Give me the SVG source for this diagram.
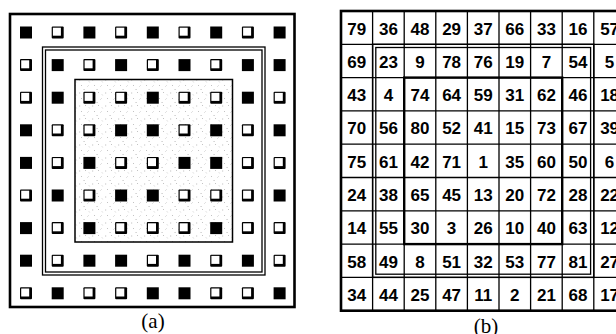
<svg xmlns="http://www.w3.org/2000/svg" xmlns:xlink="http://www.w3.org/1999/xlink" width="616" height="334" viewBox="0 0 616 334">
<style>
.ln{fill:none;stroke:#000}
.num{font-family:"Liberation Sans",Arial,sans-serif;font-weight:bold;font-size:17px;text-anchor:middle;fill:#000}
.lbl{font-family:"Liberation Serif","Times New Roman",serif;font-size:21px;text-anchor:middle;fill:#000}
</style>
<defs>
<pattern id="st" width="13" height="13" patternUnits="userSpaceOnUse">
<path d="M1 2h1.2M7 1l1 1M3 7.5h1M9.5 8.5l1-1M5.5 11.5h1.2M11 3.5l.6.8" stroke="#b4b4b4" stroke-width="0.8" fill="none"/>
</pattern>
<rect id="b" x="-6" y="-6" width="12" height="12" fill="#000"/>
<g id="w"><rect x="-6" y="-6" width="12" height="12" rx="1" fill="#000"/><rect x="-4.8" y="-4.8" width="8" height="8" fill="#fff"/></g>
</defs>
<rect width="616" height="334" fill="#fff"/>
<g id="panel-a">
<rect class="ln" x="10" y="14" width="284.5" height="293" stroke-width="2.6"/>
<rect class="ln" x="42.5" y="47" width="222.5" height="228" stroke-width="1.3"/>
<rect class="ln" x="45.5" y="50" width="216.5" height="222" stroke-width="1.3"/>
<rect x="75" y="79.5" width="157.5" height="162.5" fill="url(#st)" stroke="#000" stroke-width="1.5"/>
<g id="squares">
<use xlink:href="#b" x="26" y="32.5"/><use xlink:href="#w" x="57.7" y="32.5"/><use xlink:href="#b" x="89.4" y="32.5"/><use xlink:href="#w" x="121.1" y="32.5"/><use xlink:href="#b" x="152.8" y="32.5"/><use xlink:href="#w" x="184.5" y="32.5"/><use xlink:href="#b" x="216.2" y="32.5"/><use xlink:href="#w" x="247.9" y="32.5"/><use xlink:href="#b" x="279.6" y="32.5"/>
<use xlink:href="#w" x="26" y="65.1"/><use xlink:href="#b" x="57.7" y="65.1"/><use xlink:href="#w" x="89.4" y="65.1"/><use xlink:href="#b" x="121.1" y="65.1"/><use xlink:href="#w" x="152.8" y="65.1"/><use xlink:href="#b" x="184.5" y="65.1"/><use xlink:href="#w" x="216.2" y="65.1"/><use xlink:href="#b" x="247.9" y="65.1"/><use xlink:href="#b" x="279.6" y="65.1"/>
<use xlink:href="#w" x="26" y="97.7"/><use xlink:href="#b" x="57.7" y="97.7"/><use xlink:href="#w" x="89.4" y="97.7"/><use xlink:href="#w" x="121.1" y="97.7"/><use xlink:href="#b" x="152.8" y="97.7"/><use xlink:href="#w" x="184.5" y="97.7"/><use xlink:href="#w" x="216.2" y="97.7"/><use xlink:href="#b" x="247.9" y="97.7"/><use xlink:href="#w" x="279.6" y="97.7"/>
<use xlink:href="#b" x="26" y="130.3"/><use xlink:href="#w" x="57.7" y="130.3"/><use xlink:href="#w" x="89.4" y="130.3"/><use xlink:href="#b" x="121.1" y="130.3"/><use xlink:href="#b" x="152.8" y="130.3"/><use xlink:href="#w" x="184.5" y="130.3"/><use xlink:href="#b" x="216.2" y="130.3"/><use xlink:href="#w" x="247.9" y="130.3"/><use xlink:href="#b" x="279.6" y="130.3"/>
<use xlink:href="#b" x="26" y="162.9"/><use xlink:href="#w" x="57.7" y="162.9"/><use xlink:href="#b" x="89.4" y="162.9"/><use xlink:href="#w" x="121.1" y="162.9"/><use xlink:href="#w" x="152.8" y="162.9"/><use xlink:href="#b" x="184.5" y="162.9"/><use xlink:href="#b" x="216.2" y="162.9"/><use xlink:href="#w" x="247.9" y="162.9"/><use xlink:href="#w" x="279.6" y="162.9"/>
<use xlink:href="#w" x="26" y="195.5"/><use xlink:href="#b" x="57.7" y="195.5"/><use xlink:href="#w" x="89.4" y="195.5"/><use xlink:href="#b" x="121.1" y="195.5"/><use xlink:href="#b" x="152.8" y="195.5"/><use xlink:href="#w" x="184.5" y="195.5"/><use xlink:href="#w" x="216.2" y="195.5"/><use xlink:href="#w" x="247.9" y="195.5"/><use xlink:href="#b" x="279.6" y="195.5"/>
<use xlink:href="#b" x="26" y="228.1"/><use xlink:href="#w" x="57.7" y="228.1"/><use xlink:href="#b" x="89.4" y="228.1"/><use xlink:href="#w" x="121.1" y="228.1"/><use xlink:href="#w" x="152.8" y="228.1"/><use xlink:href="#w" x="184.5" y="228.1"/><use xlink:href="#b" x="216.2" y="228.1"/><use xlink:href="#w" x="247.9" y="228.1"/><use xlink:href="#w" x="279.6" y="228.1"/>
<use xlink:href="#b" x="26" y="260.7"/><use xlink:href="#w" x="57.7" y="260.7"/><use xlink:href="#b" x="89.4" y="260.7"/><use xlink:href="#b" x="121.1" y="260.7"/><use xlink:href="#w" x="152.8" y="260.7"/><use xlink:href="#b" x="184.5" y="260.7"/><use xlink:href="#w" x="216.2" y="260.7"/><use xlink:href="#b" x="247.9" y="260.7"/><use xlink:href="#w" x="279.6" y="260.7"/>
<use xlink:href="#w" x="26" y="293.3"/><use xlink:href="#b" x="57.7" y="293.3"/><use xlink:href="#w" x="89.4" y="293.3"/><use xlink:href="#w" x="121.1" y="293.3"/><use xlink:href="#b" x="152.8" y="293.3"/><use xlink:href="#b" x="184.5" y="293.3"/><use xlink:href="#w" x="216.2" y="293.3"/><use xlink:href="#w" x="247.9" y="293.3"/><use xlink:href="#b" x="279.6" y="293.3"/>
</g>
<text class="lbl" x="153" y="328">(a)</text>
</g>
<g id="panel-b">
<g id="grid" class="ln" stroke-width="1.3">
<path d="M372.6 11V310.7M404.2 11V310.7M435.8 11V310.7M467.4 11V310.7M499 11V310.7M530.6 11V310.7M562.2 11V310.7M593.8 11V310.7"/>
<path d="M341 44.3H616M341 77.6H616M341 110.9H616M341 144.2H616M341 177.5H616M341 210.8H616M341 244.1H616M341 277.4H616"/>
</g>
<rect class="ln" x="341" y="11" width="290" height="299.7" stroke-width="2.6"/>
<rect class="ln" x="372.6" y="44.3" width="221.2" height="233.1" stroke-width="1.4"/>
<rect class="ln" x="375.8" y="47.5" width="214.8" height="226.7" stroke-width="1.3"/>
<rect class="ln" x="404.2" y="77.6" width="158" height="166.5" stroke-width="2.4"/>
<g id="numbers">
<text class="num" x="356.8" y="34.5">79</text><text class="num" x="388.4" y="34.5">36</text><text class="num" x="420" y="34.5">48</text><text class="num" x="451.6" y="34.5">29</text><text class="num" x="483.2" y="34.5">37</text><text class="num" x="514.8" y="34.5">66</text><text class="num" x="546.4" y="34.5">33</text><text class="num" x="578" y="34.5">16</text><text class="num" x="609.6" y="34.5">57</text>
<text class="num" x="356.8" y="67.8">69</text><text class="num" x="388.4" y="67.8">23</text><text class="num" x="420" y="67.8">9</text><text class="num" x="451.6" y="67.8">78</text><text class="num" x="483.2" y="67.8">76</text><text class="num" x="514.8" y="67.8">19</text><text class="num" x="546.4" y="67.8">7</text><text class="num" x="578" y="67.8">54</text><text class="num" x="609.6" y="67.8">5</text>
<text class="num" x="356.8" y="101.1">43</text><text class="num" x="388.4" y="101.1">4</text><text class="num" x="420" y="101.1">74</text><text class="num" x="451.6" y="101.1">64</text><text class="num" x="483.2" y="101.1">59</text><text class="num" x="514.8" y="101.1">31</text><text class="num" x="546.4" y="101.1">62</text><text class="num" x="578" y="101.1">46</text><text class="num" x="609.6" y="101.1">18</text>
<text class="num" x="356.8" y="134.4">70</text><text class="num" x="388.4" y="134.4">56</text><text class="num" x="420" y="134.4">80</text><text class="num" x="451.6" y="134.4">52</text><text class="num" x="483.2" y="134.4">41</text><text class="num" x="514.8" y="134.4">15</text><text class="num" x="546.4" y="134.4">73</text><text class="num" x="578" y="134.4">67</text><text class="num" x="609.6" y="134.4">39</text>
<text class="num" x="356.8" y="167.7">75</text><text class="num" x="388.4" y="167.7">61</text><text class="num" x="420" y="167.7">42</text><text class="num" x="451.6" y="167.7">71</text><text class="num" x="483.2" y="167.7">1</text><text class="num" x="514.8" y="167.7">35</text><text class="num" x="546.4" y="167.7">60</text><text class="num" x="578" y="167.7">50</text><text class="num" x="609.6" y="167.7">6</text>
<text class="num" x="356.8" y="201">24</text><text class="num" x="388.4" y="201">38</text><text class="num" x="420" y="201">65</text><text class="num" x="451.6" y="201">45</text><text class="num" x="483.2" y="201">13</text><text class="num" x="514.8" y="201">20</text><text class="num" x="546.4" y="201">72</text><text class="num" x="578" y="201">28</text><text class="num" x="609.6" y="201">22</text>
<text class="num" x="356.8" y="234.3">14</text><text class="num" x="388.4" y="234.3">55</text><text class="num" x="420" y="234.3">30</text><text class="num" x="451.6" y="234.3">3</text><text class="num" x="483.2" y="234.3">26</text><text class="num" x="514.8" y="234.3">10</text><text class="num" x="546.4" y="234.3">40</text><text class="num" x="578" y="234.3">63</text><text class="num" x="609.6" y="234.3">12</text>
<text class="num" x="356.8" y="267.6">58</text><text class="num" x="388.4" y="267.6">49</text><text class="num" x="420" y="267.6">8</text><text class="num" x="451.6" y="267.6">51</text><text class="num" x="483.2" y="267.6">32</text><text class="num" x="514.8" y="267.6">53</text><text class="num" x="546.4" y="267.6">77</text><text class="num" x="578" y="267.6">81</text><text class="num" x="609.6" y="267.6">27</text>
<text class="num" x="356.8" y="300.9">34</text><text class="num" x="388.4" y="300.9">44</text><text class="num" x="420" y="300.9">25</text><text class="num" x="451.6" y="300.9">47</text><text class="num" x="483.2" y="300.9">11</text><text class="num" x="514.8" y="300.9">2</text><text class="num" x="546.4" y="300.9">21</text><text class="num" x="578" y="300.9">68</text><text class="num" x="609.6" y="300.9">17</text>
</g>
<text class="lbl" x="486" y="333">(b)</text>
</g>
</svg>
